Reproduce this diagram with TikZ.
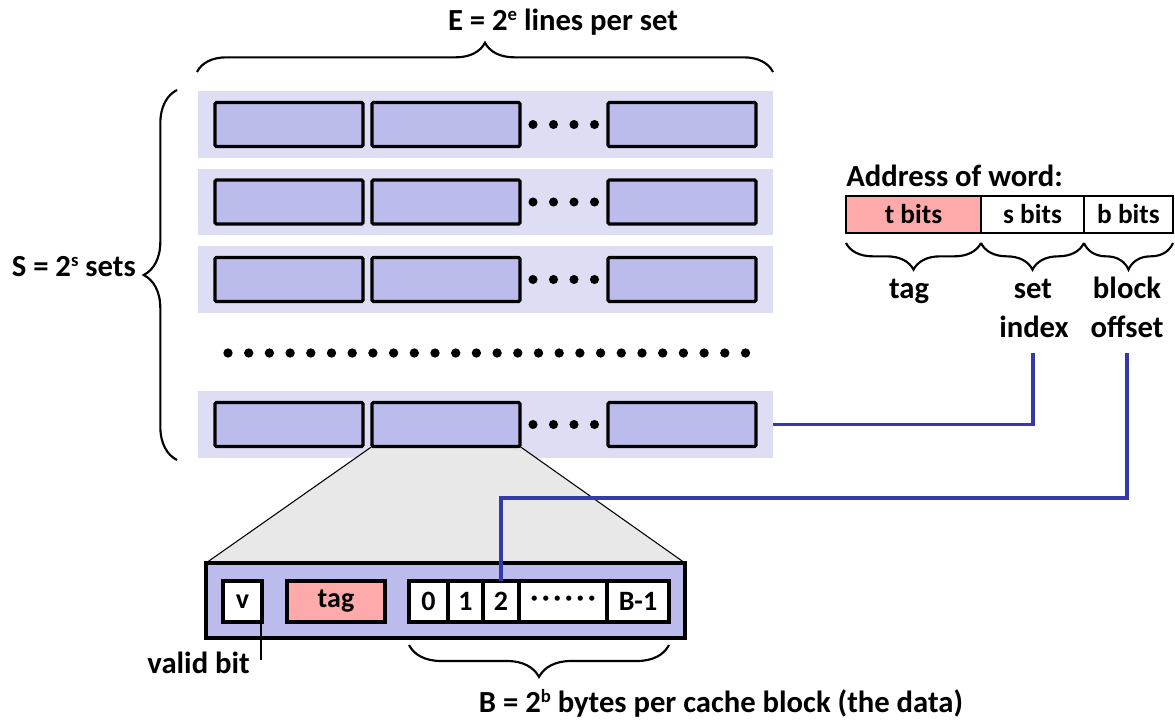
\documentclass[tikz,border=0pt]{standalone}
\usepackage{fontspec}
\setmainfont{Carlito}
\usetikzlibrary{decorations.pathreplacing,calc,backgrounds}
\definecolor{setbgc}{RGB}{221,221,244}
\definecolor{linec}{RGB}{187,187,236}
\definecolor{pinkc}{RGB}{255,170,170}
\definecolor{grayc}{RGB}{232,232,232}
\definecolor{bluec}{RGB}{52,58,168}
\pgfdeclarelayer{mid}
\pgfsetlayers{background,mid,main}
\newcommand{\supx}[1]{\raisebox{7pt}{\fontsize{14}{14}\selectfont #1}}
\tikzset{
  px/.style n args={2}{minimum width=#1*0.75pt, minimum height=#2*0.75pt},
  setbg/.style={fill=setbgc, draw=none, inner sep=0pt, outer sep=0pt, px={575}{66.5}, anchor=north west},
  linebox/.style={fill=linec, draw=black, line width=2.4pt, rounded corners=1pt, inner sep=0pt, outer sep=0pt, px={148}{44}, anchor=north west},
  addrcell/.style={draw=black, line width=0.9pt, inner sep=0pt, outer sep=0pt, anchor=north west, font=\fontsize{20.5}{23}\selectfont\bfseries},
  blockbox/.style={fill=linec, draw=black, line width=2.4pt, inner sep=0pt, outer sep=0pt, anchor=north west},
  bcell/.style={fill=white, draw=black, line width=2.4pt, inner sep=0pt, outer sep=0pt, anchor=north west, font=\fontsize{21}{23}\selectfont\bfseries},
  bigtxt/.style={font=\fontsize{23}{29}\selectfont\bfseries, inner sep=0pt},
  brc/.style={decorate, decoration={brace, amplitude=#1}, line width=1.6pt},
  bluewire/.style={draw=bluec, line width=2.4pt},
  dotc/.style={fill=black}
}
\begin{document}
\begin{tikzpicture}[x=0.75pt, y=-0.75pt]
\useasboundingbox (0,0) rectangle (1175,721);

% title and top brace
\node[bigtxt, anchor=base] (title) at (563,30) {E = 2\supx{e} lines per set};
\coordinate (tbL) at (197,72);
\coordinate (tbR) at (773,72);
\draw[brc=22pt] (tbL) -- (tbR);

% left brace and label
\coordinate (lbB) at (177,460);
\coordinate (lbT) at (177,90);
\draw[brc=25pt] (lbB) -- (lbT);
\node[bigtxt, anchor=base east] (slabel) at (136,276) {S = 2\supx{s} sets};

% sets
\begin{pgfonlayer}{background}
\foreach \r/\t in {1/91,2/168.5,3/246,5/391} {
  \node[setbg] (bg\r) at (198,\t) {};
}
\end{pgfonlayer}
\foreach \r/\t in {1/91,2/168.5,3/246,5/391} {
  \node[linebox] (r\r-a) at (215,\t+11.5) {};
  \node[linebox] (r\r-b) at (372,\t+11.5) {};
  \node[linebox] (r\r-c) at (608,\t+11.5) {};
  \foreach \dx in {533,553.5,574,594.5} {
    \fill[dotc] (\dx,\t+33.5) circle[radius=3.4pt];
  }
}
% row of dots
\foreach \i in {0,...,25} {
  \fill[dotc] (228+\i*20.7,353) circle[radius=3.5pt];
}

% address of word
\node[bigtxt, anchor=base west] (addr) at (846,186) {Address of word:};
\node[addrcell, fill=pinkc, px={135}{37}] (tbits) at (846,196) {t bits};
\node[addrcell, px={103}{37}] (sbits) at (981,196) {s bits};
\node[addrcell, px={89}{37}] (bbits) at (1084,196) {b bits};
\draw[brc=20pt] (tbits.south east |- 0,243) -- (tbits.south west |- 0,243);
\draw[brc=20pt] (sbits.south east |- 0,243) -- (sbits.south west |- 0,243);
\draw[brc=20pt] (bbits.south east |- 0,243) -- (bbits.south west |- 0,243);
\node[bigtxt, anchor=base] (ltag) at (909,298) {tag};
\node[bigtxt, anchor=base] (lset) at (1033,298) {set};
\node[bigtxt, anchor=base] (lindex) at (1034,337) {index};
\node[bigtxt, anchor=base] (lblock) at (1127,298) {block};
\node[bigtxt, anchor=base] (loffset) at (1127,337) {offset};

% cache block detail
\node[blockbox, px={479}{75}] (blk) at (206,563) {};
\node[bcell, px={39}{41}] (cv) at (223,581) {v};
\node[bcell, fill=pinkc, px={98}{41}] (ctag) at (287,581) {tag};
\node[bcell, px={39}{41}] (d0) at (409,581) {0};
\node[bcell, px={35}{41}] (d1) at (448,581) {1};
\node[bcell, px={36}{41}] (d2) at (483,581) {2};
\node[bcell, px={88}{41}] (dd) at (519,581) {\textperiodcentered\hspace{3pt}\textperiodcentered\hspace{3pt}\textperiodcentered\hspace{3pt}\textperiodcentered\hspace{3pt}\textperiodcentered\hspace{3pt}\textperiodcentered};
\node[bcell, px={62}{41}] (dB) at (607,581) {B-1};

\begin{pgfonlayer}{mid}
\filldraw[fill=grayc, draw=black, line width=0.8pt] (r5-b.south west) -- (r5-b.south east) -- (blk.north east) -- (blk.north west) -- cycle;
\end{pgfonlayer}

% valid bit
\coordinate (vb) at (261,660);
\draw[line width=1pt] (cv.south east -| vb) -- (vb);
\node[bigtxt, anchor=base east] (lvalid) at (250,673) {valid bit};

% bottom brace
\draw[brc=24pt] (dB.south east |- 0,645) -- (d0.south west |- 0,645);
\node[bigtxt, anchor=base] (lB) at (721,712) {B = 2\supx{b} bytes per cache block (the data)};

% blue wires
\coordinate (idxend) at (1033,353);
\coordinate (offend) at (1127,353);
\coordinate (turnY) at (0,498);
\draw[bluewire] (bg5.east) -| (idxend);
\draw[bluewire] (offend) |- (d2.north |- turnY) -- (d2.north);
\end{tikzpicture}
\end{document}
